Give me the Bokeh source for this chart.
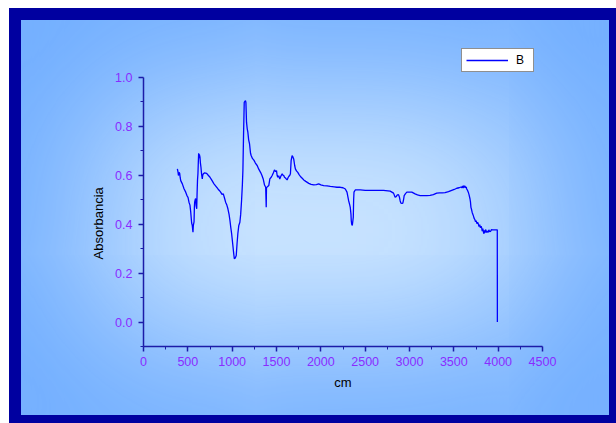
from bokeh.plotting import figure
from bokeh.models import FixedTicker, Range1d, ColumnDataSource, Title
from bokeh.embed import file_html
from bokeh.resources import INLINE

# ---- data ----
wavenumber = [382, 390, 394, 401, 408, 414, 420, 438, 457, 476, 490, 502, 513, 524, 532, 543, 550, 558, 562, 570,
              574, 577, 583, 588, 594, 600, 604, 609, 614, 618, 622, 627, 630, 637, 642, 648, 655, 663, 668, 675,
              690, 712, 730, 750, 770, 795, 815, 840, 855, 870, 885, 900, 915, 926, 940, 952, 965, 975, 985, 994,
              1008, 1016, 1024, 1035, 1046, 1055, 1064, 1075, 1087, 1096, 1106, 1115, 1121, 1128, 1136, 1150, 1155,
              1162, 1170, 1177, 1186, 1196, 1207, 1215, 1230, 1245, 1262, 1282, 1300, 1320, 1335, 1350, 1365, 1378,
              1384, 1387, 1395, 1413, 1425, 1440, 1451, 1465, 1477, 1490, 1500, 1507, 1514, 1525, 1537, 1550, 1564,
              1575, 1582, 1590, 1601, 1610, 1620, 1630, 1638, 1650, 1657, 1662, 1665, 1676, 1685, 1694, 1705, 1713,
              1725, 1740, 1755, 1770, 1790, 1807, 1830, 1864, 1890, 1920, 1950, 1976, 2000, 2032, 2070, 2107, 2150,
              2182, 2220, 2250, 2276, 2295, 2313, 2325, 2332, 2340, 2343, 2348, 2355, 2360, 2366, 2370, 2374, 2388,
              2445, 2501, 2595, 2707, 2782, 2820, 2838, 2848, 2857, 2866, 2876, 2887, 2895, 2903, 2915, 2925, 2933,
              2940, 2955, 2970, 3026, 3063, 3090, 3120, 3160, 3195, 3232, 3269, 3307, 3340, 3370, 3401, 3440, 3476,
              3505, 3533, 3560, 3580, 3589, 3598, 3605, 3612, 3620, 3626, 3632, 3640, 3645, 3655, 3663, 3672, 3682,
              3688, 3693, 3700, 3707, 3713, 3720, 3728, 3738, 3745, 3752, 3760, 3768, 3776, 3784, 3792, 3800, 3808,
              3814, 3820, 3827, 3834, 3840, 3846, 3852, 3858, 3862, 3870, 3878, 3888, 3895, 3903, 3915, 3925, 3937,
              3960, 3982, 3990, 3991]
absorbance = [0.626, 0.612, 0.599, 0.612, 0.608, 0.590, 0.578, 0.565, 0.545, 0.531, 0.517, 0.510, 0.490, 0.478,
              0.452, 0.405, 0.395, 0.367, 0.395, 0.410, 0.470, 0.490, 0.500, 0.505, 0.475, 0.463, 0.520, 0.580,
              0.606, 0.650, 0.690, 0.670, 0.685, 0.674, 0.650, 0.633, 0.605, 0.585, 0.600, 0.606, 0.610, 0.608,
              0.600, 0.592, 0.580, 0.565, 0.556, 0.544, 0.538, 0.531, 0.522, 0.524, 0.505, 0.490, 0.478, 0.463,
              0.440, 0.415, 0.385, 0.361, 0.313, 0.285, 0.259, 0.262, 0.272, 0.320, 0.361, 0.395, 0.408, 0.440,
              0.497, 0.560, 0.619, 0.760, 0.898, 0.905, 0.898, 0.816, 0.790, 0.776, 0.745, 0.728, 0.690, 0.680,
              0.668, 0.662, 0.650, 0.640, 0.625, 0.612, 0.600, 0.585, 0.560, 0.551, 0.469, 0.550, 0.552, 0.558,
              0.585, 0.592, 0.599, 0.610, 0.622, 0.615, 0.619, 0.600, 0.592, 0.598, 0.585, 0.597, 0.606, 0.600,
              0.599, 0.592, 0.589, 0.585, 0.581, 0.590, 0.595, 0.600, 0.606, 0.640, 0.660, 0.680, 0.675, 0.667,
              0.640, 0.626, 0.618, 0.612, 0.603, 0.595, 0.588, 0.581, 0.575, 0.567, 0.563, 0.561, 0.562, 0.565,
              0.561, 0.558, 0.557, 0.555, 0.553, 0.551, 0.551, 0.549, 0.544, 0.531, 0.497, 0.480, 0.469, 0.440,
              0.415, 0.400, 0.395, 0.410, 0.429, 0.500, 0.531, 0.540, 0.540, 0.538, 0.538, 0.538, 0.535, 0.527,
              0.510, 0.512, 0.517, 0.520, 0.521, 0.510, 0.495, 0.486, 0.485, 0.486, 0.500, 0.517, 0.525, 0.531,
              0.531, 0.524, 0.520, 0.517, 0.517, 0.517, 0.518, 0.521, 0.527, 0.528, 0.528, 0.529, 0.533, 0.538,
              0.542, 0.547, 0.549, 0.552, 0.549, 0.556, 0.548, 0.558, 0.550, 0.557, 0.549, 0.553, 0.544, 0.538,
              0.531, 0.520, 0.504, 0.490, 0.469, 0.460, 0.448, 0.442, 0.435, 0.425, 0.418, 0.410, 0.415, 0.402,
              0.408, 0.401, 0.390, 0.398, 0.385, 0.392, 0.385, 0.372, 0.382, 0.368, 0.361, 0.375, 0.365, 0.378,
              0.374, 0.366, 0.372, 0.367, 0.377, 0.370, 0.371, 0.378, 0.377, 0.377, 0.377, 0.377, 0.0]

series_name = "B"
x_label = "cm"
y_label = "Absorbancia"
x_ticks = [0, 500, 1000, 1500, 2000, 2500, 3000, 3500, 4000, 4500]
x_minor = [250, 750, 1250, 1750, 2250, 2750, 3250, 3750, 4250]
y_ticks = [0.0, 0.2, 0.4, 0.6, 0.8, 1.0]
y_minor = [-0.1, 0.1, 0.3, 0.5, 0.7, 0.9]
y_tick_labels = {0.0: "0.0", 0.2: "0.2", 0.4: "0.4", 0.6: "0.6", 0.8: "0.8", 1.0: "1.0"}
x_axis_extent = (0, 4500)
y_axis_extent = (-0.1, 1.0)

# ---- layout ----
W, H = 616, 423
FONT = "Liberation Sans"
AXIS_COLOR = "#1c1ca8"
TICK_LABEL_COLOR = "#8a2cff"
# frame spans page y 40..346; the axis itself is drawn from -0.1 to 1.0 (page y 77..346)
y_top = 1.0 + 37 / 245.0

p = figure(width=W, height=H, output_backend="svg", toolbar_location=None,
           x_range=Range1d(0, 4500), y_range=Range1d(-0.1, y_top),
           min_border_left=143, min_border_right=74, min_border_top=40, min_border_bottom=77)
p.border_fill_color = None
p.background_fill_color = None
p.outline_line_color = None
p.grid.visible = False

# page decoration: white margin strip, dark-blue frame, rectangular light-blue gradient
p.styles = {
    "background-color": "#d0e8ff",
    "box-shadow": ("inset 9px 8px 0 0 #ffffff, "
                   "inset 7px 6px 0 14px #0000a0, "
                   "inset 7px 6px 160px 90px #6eacff"),
}

src = ColumnDataSource(data=dict(x=wavenumber, y=absorbance))
p.line("x", "y", source=src, line_color="#0000ff", line_width=1.3, legend_label=series_name)

# axes
for ax in (p.xaxis[0], p.yaxis[0]):
    ax.axis_line_color = AXIS_COLOR
    ax.axis_line_width = 1.5
    ax.major_tick_line_color = AXIS_COLOR
    ax.minor_tick_line_color = AXIS_COLOR
    ax.major_tick_line_width = 1.5
    ax.minor_tick_line_width = 1
    ax.major_tick_out = 5
    ax.major_tick_in = 0
    ax.minor_tick_out = 3
    ax.minor_tick_in = 0
    ax.major_label_text_color = TICK_LABEL_COLOR
    ax.major_label_text_font = FONT
    ax.major_label_text_font_size = "12.5px"
    ax.axis_label_text_font = FONT
    ax.axis_label_text_font_size = "13px"
    ax.axis_label_text_font_style = "normal"
    ax.axis_label_text_color = "#000000"

p.xaxis[0].bounds = x_axis_extent
p.yaxis[0].bounds = y_axis_extent
p.xaxis[0].major_label_standoff = 5
p.yaxis[0].major_label_standoff = 6
p.xaxis[0].ticker = FixedTicker(ticks=x_ticks, minor_ticks=x_minor)
p.yaxis[0].ticker = FixedTicker(ticks=y_ticks, minor_ticks=y_minor)
p.yaxis[0].major_label_overrides = y_tick_labels
p.xaxis[0].axis_label = x_label
p.xaxis[0].axis_label_standoff = 6

# y-axis title, centred on the drawn axis extent (not on the taller frame)
ytitle = Title(text=y_label, align="left", offset=87, standoff=14,
               text_font=FONT, text_font_size="13px", text_font_style="normal",
               text_color="#000000")
p.add_layout(ytitle, "left")

# legend
lg = p.legend[0]
lg.location = "top_right"
lg.border_line_color = "#202020"
lg.border_line_width = 1
lg.background_fill_color = "white"
lg.background_fill_alpha = 1
lg.label_text_font = FONT
lg.label_text_font_size = "12px"
lg.label_text_color = "#000000"
lg.glyph_width = 42
lg.glyph_height = 12
lg.label_height = 12
lg.label_width = 13
lg.label_standoff = 8
lg.padding = 4
lg.margin = 8
lg.spacing = 0

open("out.html", "w").write(file_html(p, INLINE))
